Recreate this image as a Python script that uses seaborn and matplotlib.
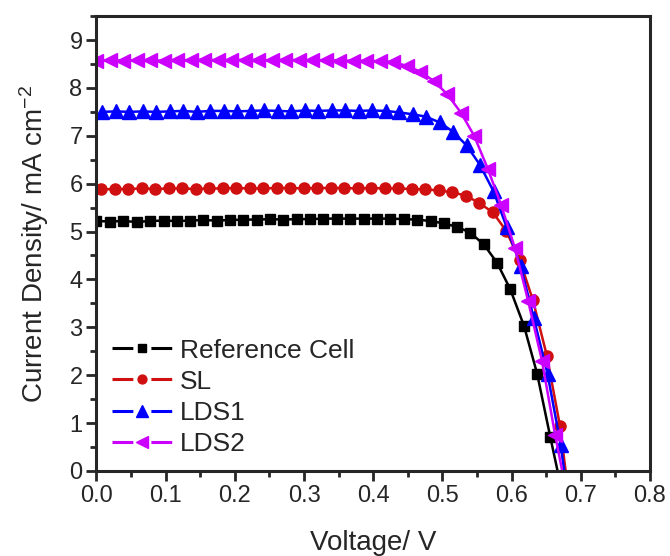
import matplotlib
matplotlib.use("Agg")
import matplotlib.pyplot as plt
import seaborn as sns
import pandas as pd
from matplotlib.lines import Line2D
from matplotlib.legend_handler import HandlerTuple
from matplotlib.ticker import MultipleLocator, FormatStrFormatter

# J-V curves, values (last point slightly below 0 so the line reaches Voc)
v_ref = [0.000, 0.019, 0.039, 0.058, 0.077, 0.097, 0.116, 0.135, 0.154, 0.174, 0.193, 0.212,
         0.232, 0.251, 0.270, 0.290, 0.309, 0.328, 0.347, 0.367, 0.386, 0.405, 0.425, 0.444,
         0.463, 0.483, 0.502, 0.521, 0.540, 0.560, 0.579, 0.598, 0.618, 0.637, 0.656, 0.676]
j_ref = [5.22, 5.21, 5.22, 5.20, 5.22, 5.23, 5.22, 5.23, 5.24, 5.23, 5.24, 5.25,
         5.25, 5.26, 5.25, 5.26, 5.26, 5.27, 5.27, 5.27, 5.27, 5.27, 5.27, 5.26,
         5.25, 5.22, 5.17, 5.10, 4.98, 4.73, 4.35, 3.80, 3.03, 2.03, 0.71, -0.64]

v_sl = [0.007, 0.027, 0.046, 0.066, 0.085, 0.105, 0.124, 0.144, 0.163, 0.183, 0.202, 0.222,
        0.241, 0.261, 0.280, 0.300, 0.319, 0.339, 0.358, 0.378, 0.397, 0.417, 0.436, 0.456,
        0.475, 0.495, 0.514, 0.534, 0.553, 0.573, 0.592, 0.612, 0.631, 0.651, 0.670, 0.690]
j_sl = [5.88, 5.89, 5.89, 5.90, 5.89, 5.90, 5.90, 5.89, 5.90, 5.90, 5.91, 5.90,
        5.90, 5.91, 5.91, 5.90, 5.91, 5.91, 5.91, 5.90, 5.91, 5.90, 5.90, 5.89,
        5.88, 5.86, 5.82, 5.75, 5.60, 5.40, 5.02, 4.40, 3.56, 2.41, 0.94, -1.35]

v_lds1 = [0.008, 0.028, 0.047, 0.067, 0.086, 0.106, 0.125, 0.145, 0.164, 0.184, 0.203, 0.223,
          0.242, 0.262, 0.281, 0.301, 0.320, 0.340, 0.359, 0.379, 0.398, 0.418, 0.437, 0.457,
          0.476, 0.496, 0.515, 0.535, 0.554, 0.574, 0.593, 0.613, 0.632, 0.652, 0.671, 0.691]
j_lds1 = [7.50, 7.51, 7.50, 7.51, 7.50, 7.51, 7.52, 7.50, 7.52, 7.52, 7.51, 7.52,
          7.53, 7.52, 7.51, 7.53, 7.52, 7.53, 7.53, 7.52, 7.53, 7.52, 7.49, 7.45,
          7.40, 7.28, 7.09, 6.80, 6.40, 5.84, 5.09, 4.29, 3.20, 2.03, 0.55, -1.60]

v_lds2 = [0.000, 0.020, 0.039, 0.059, 0.078, 0.098, 0.117, 0.137, 0.156, 0.176, 0.195, 0.215,
          0.234, 0.254, 0.273, 0.293, 0.312, 0.332, 0.351, 0.371, 0.390, 0.410, 0.429, 0.449,
          0.468, 0.488, 0.507, 0.527, 0.546, 0.566, 0.585, 0.605, 0.624, 0.644, 0.663, 0.683]
j_lds2 = [8.57, 8.58, 8.57, 8.58, 8.58, 8.57, 8.58, 8.58, 8.59, 8.58, 8.58, 8.59,
          8.58, 8.58, 8.59, 8.58, 8.58, 8.58, 8.57, 8.57, 8.56, 8.56, 8.54, 8.46,
          8.34, 8.14, 7.87, 7.48, 7.00, 6.30, 5.55, 4.65, 3.55, 2.30, 0.75, -0.71]

labels = ["Reference Cell", "SL", "LDS1", "LDS2"]
colors = ["#000000", "#d01010", "#0000ff", "#cc00ff"]
markers = ["s", "o", "^", "<"]
msizes = [7, 8, 10.5, 10.5]

sns.set_style("ticks")
plt.rcParams["font.family"] = ["Liberation Sans", "DejaVu Sans"]
plt.rcParams["mathtext.default"] = "regular"
plt.rcParams["lines.scale_dashes"] = False

fig = plt.figure(figsize=(6.7, 5.56), dpi=100)
ax = fig.add_axes([0.144, 0.153, 0.826, 0.818])

data = [(v_ref, j_ref), (v_sl, j_sl), (v_lds1, j_lds1), (v_lds2, j_lds2)]
for (v, j), c, m, ms in zip(data, colors, markers, msizes):
    sns.lineplot(x=v, y=j, ax=ax, color=c, marker=m, markersize=ms,
                 markeredgecolor=c, markeredgewidth=1, linewidth=1.8,
                 sort=False, estimator=None, legend=False)

ax.set_xlim(0, 0.8)
ax.set_ylim(0, 9.5)
ax.xaxis.set_major_locator(MultipleLocator(0.1))
ax.xaxis.set_minor_locator(MultipleLocator(0.05))
ax.yaxis.set_major_locator(MultipleLocator(1))
ax.yaxis.set_minor_locator(MultipleLocator(0.5))
ax.xaxis.set_major_formatter(FormatStrFormatter("%.1f"))
ax.tick_params(which="major", direction="out", length=7, width=2, labelsize=17, pad=3)
ax.tick_params(which="minor", direction="out", length=4, width=2)
for s in ax.spines.values():
    s.set_linewidth(2.2)

ax.set_xlabel("Voltage/ V", fontsize=20, labelpad=17)
ax.set_ylabel("Current Density/ mA cm$^{-2}$", fontsize=20, labelpad=13)

# legend: line - gap - marker - gap - line, like the original
handles = []
for c, m, ms in zip(colors, markers, msizes):
    seg = Line2D([], [], color=c, linewidth=2.2, linestyle=(0, (15, 13, 15, 60)))
    dot = Line2D([], [], color=c, marker=m, markersize=ms * 0.8, linestyle="none")
    handles.append((seg, dot))
ax.legend(handles, labels, handler_map={tuple: HandlerTuple(ndivide=1, pad=0)},
          loc="lower left", bbox_to_anchor=(0.028, 0.033), frameon=False, fontsize=19,
          handlelength=2.26, handletextpad=0.3, labelspacing=0.27,
          borderpad=0, borderaxespad=0)

fig.savefig("out.png", dpi=100)
